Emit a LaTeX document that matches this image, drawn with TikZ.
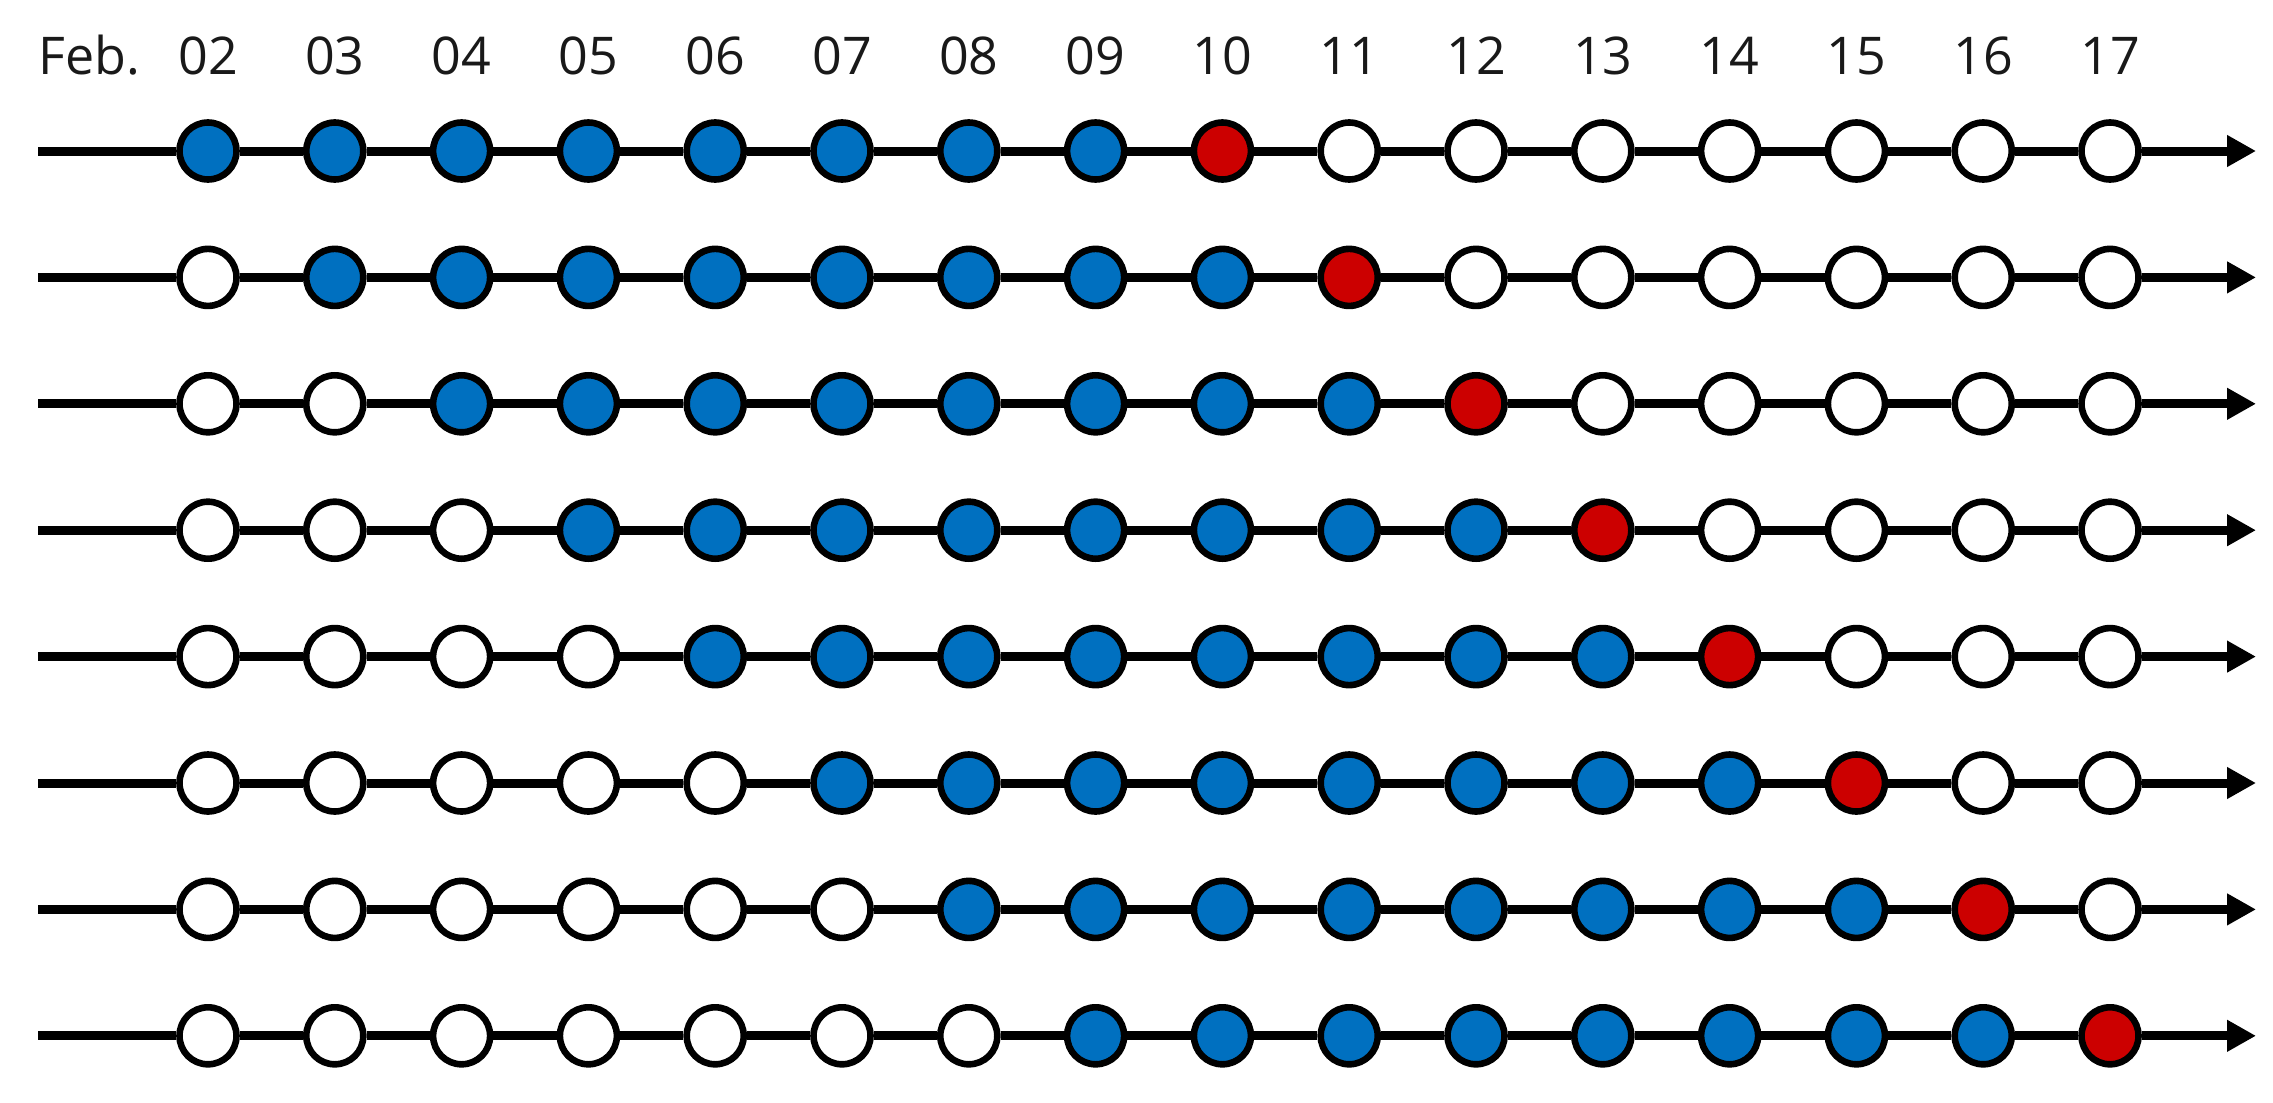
\documentclass[tikz,border=0pt]{standalone}
\usepackage{fontspec}
\setmainfont{Open Sans}
\usetikzlibrary{arrows.meta}
\definecolor{dotblue}{HTML}{0070C0}
\definecolor{dotred}{HTML}{CC0000}
\begin{document}
\begin{tikzpicture}[x=0.5pt,y=-0.5pt,
  dot/.style={circle,draw=black,line width=3.3pt,minimum size=28.5pt,inner sep=0pt,fill=white},
  bluedot/.style={dot,fill=dotblue},
  reddot/.style={dot,fill=dotred},
  axis/.style={line width=4.5pt},
  lbl/.style={font=\fontsize{26pt}{31pt}\selectfont,inner sep=0pt,anchor=base,text=black!90}]
\useasboundingbox (0,0) rectangle (2273,1102);
\node[lbl,anchor=base west] (feb) at (38,75) {Feb.};
\foreach \c [count=\i from 0] in {02,03,04,05,06,07,08,09,10,11,12,13,14,15,16,17}{
  \node[lbl] (d\i) at ({208+126.8*\i},75) {\c};
}
\foreach \r in {0,...,7}{
  \pgfmathsetmacro{\yy}{151+126.4*\r}
  \coordinate (s\r) at (38,\yy);
  \coordinate (e\r) at (2256,\yy);
  \foreach \c in {0,...,15}{
    \pgfmathtruncatemacro{\redc}{\r+8}
    \ifnum\c=\redc
      \node[reddot] (n\r-\c) at ({208+126.8*\c},\yy) {};
    \else
      \ifnum\c<\r
        \node[dot] (n\r-\c) at ({208+126.8*\c},\yy) {};
      \else
        \ifnum\c>\redc
          \node[dot] (n\r-\c) at ({208+126.8*\c},\yy) {};
        \else
          \node[bluedot] (n\r-\c) at ({208+126.8*\c},\yy) {};
        \fi
      \fi
    \fi
  }
  \draw[axis] (s\r) -- (n\r-0);
  \foreach \c [evaluate=\c as \p using int(\c-1)] in {1,...,15}{
    \draw[axis] (n\r-\p) -- (n\r-\c);
  }
  \draw[axis,-{Triangle[length=14.5pt,width=15pt]}] (n\r-15) -- (e\r);
}
\end{tikzpicture}
\end{document}
